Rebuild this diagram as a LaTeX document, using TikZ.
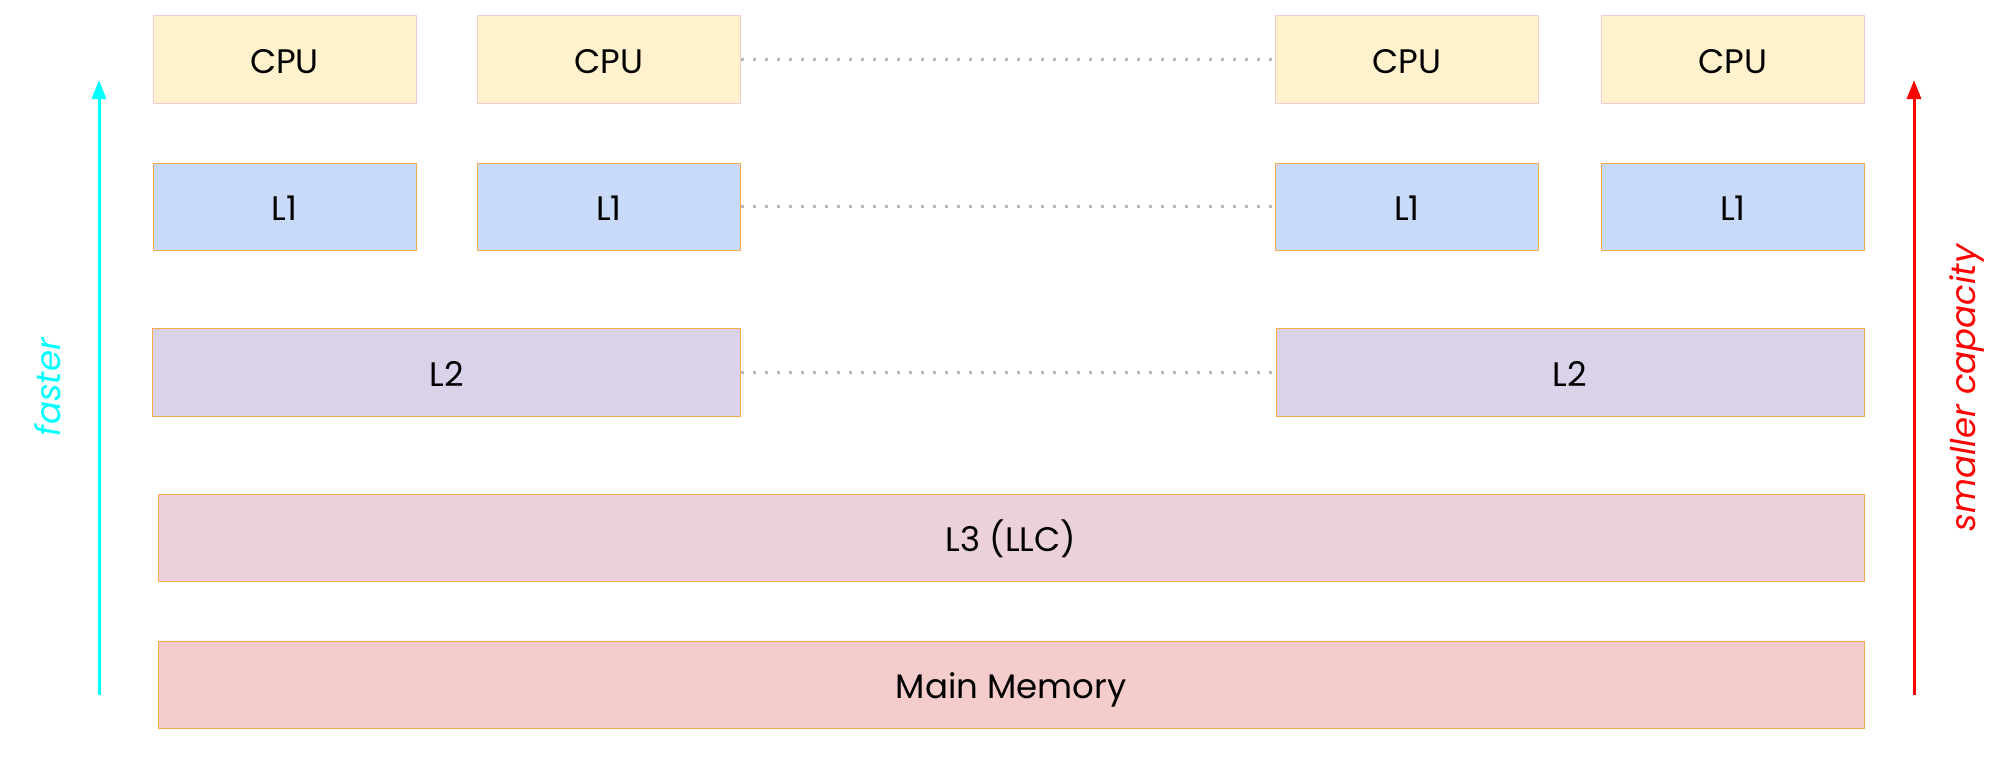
\documentclass[tikz,border=0pt]{standalone}
\usepackage{fontspec}
\setmainfont{Poppins}
\usetikzlibrary{arrows.meta}
\definecolor{cpufill}{HTML}{FFF2CC}
\definecolor{cpuedge}{HTML}{F2CCCC}
\definecolor{lonefill}{HTML}{C9DAF8}
\definecolor{ltwofill}{HTML}{D9D2E9}
\definecolor{lthreefill}{HTML}{EAD1DC}
\definecolor{memfill}{HTML}{F4CCCC}
\definecolor{edgeorange}{HTML}{F6AA48}
\definecolor{dotgray}{HTML}{B7B7B7}
\definecolor{fastcyan}{HTML}{00FFFF}
\definecolor{capred}{HTML}{FF0000}
\tikzset{
  membox/.style={draw=edgeorange, line width=0.5pt, rectangle, inner sep=0pt,
    font=\fontsize{17}{20}\selectfont, text=black, text height=14.4pt, text depth=0pt},
  cpubox/.style={membox, draw=cpuedge, fill=cpufill, minimum width=131.5pt, minimum height=44pt},
  lonebox/.style={membox, fill=lonefill, minimum width=131.5pt, minimum height=43.5pt},
  ltwobox/.style={membox, fill=ltwofill, minimum width=294pt, minimum height=44pt},
  widebox/.style={membox, minimum width=853pt, minimum height=43.5pt},
  dotlink/.style={draw=dotgray, line width=1.5pt, dash pattern=on 1.5pt off 4.5pt},
  axisarrow/.style={line width=1.5pt, -{Triangle[length=9.5pt,width=7pt]}},
  axislabel/.style={rotate=90, font=\fontsize{17}{20}\selectfont\itshape}
}
\begin{document}
\begin{tikzpicture}[x=0.5pt,y=-0.5pt]
\useasboundingbox (0,0) rectangle (2000,760);
% CPUs
\node[cpubox] (cpu1) at (284.5,59) {CPU};
\node[cpubox] (cpu2) at (609,59) {CPU};
\node[cpubox] (cpu3) at (1407,59) {CPU};
\node[cpubox] (cpu4) at (1733,59) {CPU};
% L1
\node[lonebox] (la1) at (284.5,206.5) {L1};
\node[lonebox] (la2) at (609,206.5) {L1};
\node[lonebox] (la3) at (1407,206.5) {L1};
\node[lonebox] (la4) at (1733,206.5) {L1};
% L2
\node[ltwobox] (lb1) at (446.5,372) {L2};
\node[ltwobox] (lb2) at (1570,372) {L2};
% L3 and memory
\node[widebox, fill=lthreefill] (lc) at (1011,537.5) {L3 (LLC)};
\node[widebox, fill=memfill] (mem) at (1011,684.5) {Main Memory};
% dotted links
\draw[dotlink] (cpu2.east) -- (cpu3.west);
\draw[dotlink] (la2.east) -- (la3.west);
\draw[dotlink] (lb1.east) -- (lb2.west);
% axes
\coordinate (fastbot) at (99,695);
\coordinate (fasttop) at (99,80);
\coordinate (capbot) at (1914,695);
\coordinate (captop) at (1914,80);
\draw[axisarrow, draw=fastcyan, fill=fastcyan] (fastbot) -- (fasttop);
\draw[axisarrow, draw=capred, fill=capred] (capbot) -- (captop);
\node[axislabel, text=fastcyan] (faster) at (48,387) {faster};
\node[axislabel, text=capred] (smaller) at (1967,388) {smaller capacity};
\end{tikzpicture}
\end{document}
